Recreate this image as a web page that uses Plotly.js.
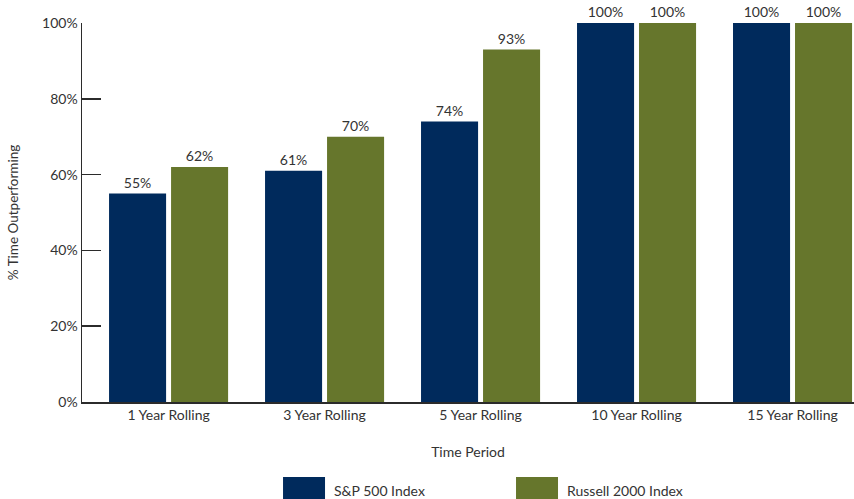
<!DOCTYPE html>
<html>
<head>
<meta charset="utf-8">
<script src="https://cdn.plot.ly/plotly-3.0.1.min.js"></script>
<style>
  html, body { margin: 0; padding: 0; background: #fff; }
  #chart { width: 854px; height: 499px; }
</style>
</head>
<body>
<div id="chart"></div>
<script>
// Share of rolling periods in which each index outperformed
const categories = ['1 Year Rolling', '3 Year Rolling', '5 Year Rolling', '10 Year Rolling', '15 Year Rolling'];
const sp500 = [55, 61, 74, 100, 100];
const russell = [62, 70, 93, 100, 100];
const seriesNames = ['S&P 500 Index', 'Russell 2000 Index'];
const seriesColors = ['#002A5C', '#66762C'];
const yTickVals = [0, 20, 40, 60, 80, 100];
const yTickText = ['0%', '20%', '40%', '60%', '80%', '100%'];
// category boundaries where the small separator ticks sit
const boundaryTicks = [0.5, 1.5, 2.5, 3.5];

const FONT = 'Lato, "Open Sans", sans-serif';
const TEXT = '#333333';
const AXIS = '#2b2b2b';
const xRange = [-0.555, 4.394];

const traces = [sp500, russell].map((vals, i) => ({
  type: 'bar',
  name: seriesNames[i],
  x: categories,
  y: vals,
  marker: { color: seriesColors[i] },
  text: vals.map(v => v + '%'),
  textposition: 'outside',
  textfont: { family: FONT, size: 14, color: TEXT },
  cliponaxis: false,
  hoverinfo: 'x+y+name',
  showlegend: false
}));

// legend drawn as large swatches below the axis title
const legendX = [0.2604, 0.5622];
const swatchW = 0.0544;
const shapes = seriesNames.map((n, i) => ({
  type: 'rect', xref: 'paper', yref: 'paper',
  x0: legendX[i], x1: legendX[i] + swatchW,
  y0: -0.2559, y1: -0.1979,
  fillcolor: seriesColors[i], line: { width: 0 }
}));
const annotations = seriesNames.map((n, i) => ({
  xref: 'paper', yref: 'paper',
  x: legendX[i] + swatchW + 0.009, y: -0.2322,
  xanchor: 'left', yanchor: 'middle',
  text: n, showarrow: false,
  font: { family: FONT, size: 14, color: TEXT }
}));

const layout = {
  width: 854, height: 499,
  margin: { l: 82, r: 0, t: 23, b: 97 },
  paper_bgcolor: '#ffffff',
  plot_bgcolor: '#ffffff',
  font: { family: FONT, size: 14, color: TEXT },
  barmode: 'group',
  bargap: 0.205,
  bargroupgap: 0.08,
  showlegend: false,
  xaxis: {
    type: 'category',
    range: xRange,
    showline: true, linecolor: AXIS, linewidth: 1.5,
    ticks: '', showgrid: false, zeroline: false,
    tickfont: { family: FONT, size: 14, color: TEXT },
    title: { text: 'Time Period', standoff: 25, font: { family: FONT, size: 14, color: TEXT } },
    automargin: false
  },
  xaxis2: {
    type: 'linear',
    overlaying: 'x', anchor: 'y', side: 'bottom',
    range: xRange,
    tickvals: boundaryTicks,
    ticks: 'inside', ticklen: 9, tickwidth: 1.5, tickcolor: AXIS,
    showticklabels: false, showline: false, showgrid: false, zeroline: false
  },
  yaxis: {
    range: [0, 100],
    tickvals: yTickVals, ticktext: yTickText,
    ticks: 'inside', ticklen: 19, tickwidth: 1.5, tickcolor: AXIS,
    showline: true, linecolor: AXIS, linewidth: 1.5,
    showgrid: false, zeroline: false,
    tickfont: { family: FONT, size: 14, color: TEXT },
    title: { text: '% Time Outperforming', standoff: 20, font: { family: FONT, size: 13.5, color: TEXT } },
    automargin: false
  },
  shapes: shapes,
  annotations: annotations
};

Plotly.newPlot('chart', traces, layout, { displayModeBar: false, staticPlot: true });
</script>
</body>
</html>
